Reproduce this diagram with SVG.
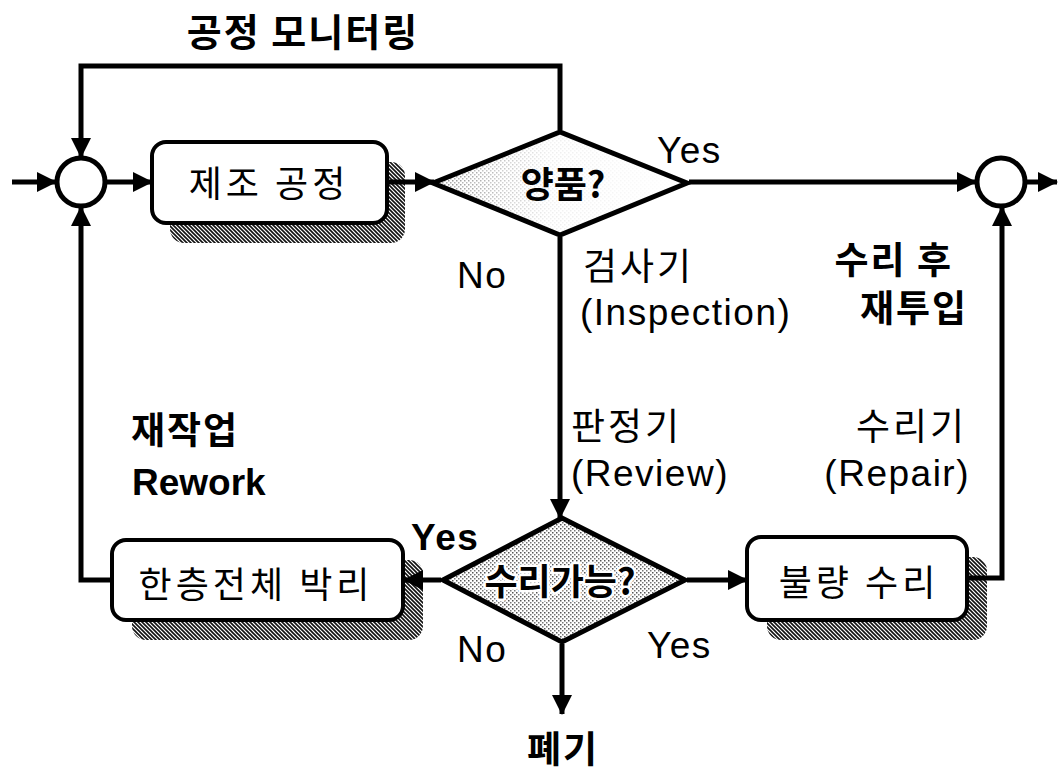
<svg xmlns="http://www.w3.org/2000/svg" width="1058" height="777" viewBox="0 0 1058 777">
<style>
text{font-family:"Liberation Sans","Noto Sans CJK KR",sans-serif;fill:#000}
.kr{font-family:"Noto Sans CJK KR","Liberation Sans",sans-serif}
.b{font-weight:bold}
.lab{font-size:37px;letter-spacing:1.5px}
.box{fill:#fff;stroke:#000;stroke-width:4}
.sh{fill:url(#hatch)}
.con{fill:none;stroke:#000;stroke-width:5}
.node{fill:#fff;stroke:#000;stroke-width:5}
</style>
<defs>
<pattern id="hatch" width="4" height="4" patternUnits="userSpaceOnUse">
<rect width="4" height="4" fill="#fff"/>
<path d="M-1,-1 L5,5 M-1,3 L1,5 M3,-1 L5,1" stroke="#111" stroke-width="1.6"/>
</pattern>
<pattern id="dots" width="4" height="4" patternUnits="userSpaceOnUse">
<rect width="4" height="4" fill="#fff"/>
<rect x="0" y="0" width="1.5" height="1.5" fill="#555"/>
<rect x="2" y="2" width="1.5" height="1.5" fill="#777"/>
</pattern>
<linearGradient id="fade" x1="0" y1="0" x2="1" y2="0">
<stop offset="0" stop-color="#fff" stop-opacity="0.3"/>
<stop offset="0.45" stop-color="#fff" stop-opacity="0.9"/>
<stop offset="1" stop-color="#fff" stop-opacity="1"/>
</linearGradient>
<marker id="ah" viewBox="0 0 20 20" refX="19" refY="10" markerWidth="20" markerHeight="20" markerUnits="userSpaceOnUse" orient="auto">
<path d="M0,0 L20,10 L0,20 Z" fill="#000"/>
</marker>
</defs>
<rect width="1058" height="777" fill="#fff"/>

<g id="sum-in">
<circle class="node" cx="81" cy="182" r="24"/>
</g>
<g id="sum-out">
<circle class="node" cx="1001" cy="182" r="24"/>
</g>

<g id="process">
<rect class="sh" x="170" y="162" width="235" height="81" rx="14"/>
<rect class="box" x="152" y="142" width="235" height="81" rx="14"/>
<text class="kr" x="269" y="197" font-size="36" letter-spacing="4" text-anchor="middle">제조 공정</text>
</g>

<g id="good-check">
<path d="M433,183 L560,132 L687,183 L560,235 Z" fill="url(#dots)"/>
<path d="M433,183 L560,132 L687,183 L560,235 Z" fill="url(#fade)"/>
<path d="M433,183 L560,132 L687,183 L560,235 Z" fill="none" stroke="#000" stroke-width="5" stroke-linejoin="miter"/>
<text class="kr b" x="563" y="198" font-size="36" text-anchor="middle">양품?</text>
</g>

<g id="repairable-check">
<path d="M443,580 L562,518 L685,580 L562,642 Z" fill="url(#dots)" stroke="#000" stroke-width="5"/>
<text class="kr b" x="560" y="595" font-size="36" text-anchor="middle" stroke="#fff" stroke-width="5" paint-order="stroke" stroke-linejoin="round">수리가능?</text>
</g>

<g id="strip">
<rect class="sh" x="132" y="560" width="291" height="80" rx="14"/>
<rect class="box" x="112" y="540" width="291" height="80" rx="14"/>
<text class="kr" x="256" y="598" font-size="36" letter-spacing="4" text-anchor="middle">한층전체 박리</text>
</g>

<g id="repair">
<rect class="sh" x="767" y="557" width="220" height="83" rx="14"/>
<rect class="box" x="747" y="537" width="220" height="83" rx="14"/>
<text class="kr" x="859" y="596" font-size="36" letter-spacing="4" text-anchor="middle">불량 수리</text>
</g>

<g id="connectors">
<path class="con" d="M12,182 H56" marker-end="url(#ah)"/>
<path class="con" d="M105,182 H152" marker-end="url(#ah)"/>
<path class="con" d="M389,182 H434" marker-end="url(#ah)"/>
<path class="con" d="M689,182 H976" marker-end="url(#ah)"/>
<path class="con" d="M1026,182 H1057" marker-end="url(#ah)"/>
<path class="con" d="M560,130 V66 H81 V157" marker-end="url(#ah)"/>
<path class="con" d="M560,237 V518" marker-end="url(#ah)"/>
<path class="con" d="M441,580 H404" marker-end="url(#ah)"/>
<path class="con" d="M110,580 H81 V207" marker-end="url(#ah)"/>
<path class="con" d="M687,580 H747" marker-end="url(#ah)"/>
<path class="con" d="M969,578 H1002 V207" marker-end="url(#ah)"/>
<path class="con" d="M562,644 V714" marker-end="url(#ah)"/>
</g>

<g id="labels">
<text class="kr b" x="303" y="46" font-size="38" letter-spacing="2" text-anchor="middle">공정 모니터링</text>
<text class="lab" x="657" y="163">Yes</text>
<text class="lab" x="457" y="288">No</text>
<text class="kr" x="583" y="280" font-size="37" letter-spacing="3">검사기</text>
<text class="lab" x="580" y="325">(Inspection)</text>
<text class="kr b" x="953" y="274" font-size="37" letter-spacing="2" text-anchor="end">수리 후</text>
<text class="kr b" x="968" y="322" font-size="37" letter-spacing="2" text-anchor="end">재투입</text>
<text class="kr b" x="131" y="444" font-size="37" letter-spacing="2">재작업</text>
<text class="b" x="132" y="495" font-size="37">Rework</text>
<text class="kr" x="571" y="440" font-size="37" letter-spacing="3">판정기</text>
<text class="lab" x="571" y="486">(Review)</text>
<text class="kr" x="967" y="440" font-size="37" letter-spacing="3" text-anchor="end">수리기</text>
<text class="lab" x="970" y="486" text-anchor="end">(Repair)</text>
<text class="lab b" x="411" y="550" font-size="36">Yes</text>
<text class="lab" x="457" y="662">No</text>
<text class="lab" x="647" y="658">Yes</text>
<text class="kr b" x="563" y="763" font-size="37" letter-spacing="2" text-anchor="middle">폐기</text>
</g>
</svg>
